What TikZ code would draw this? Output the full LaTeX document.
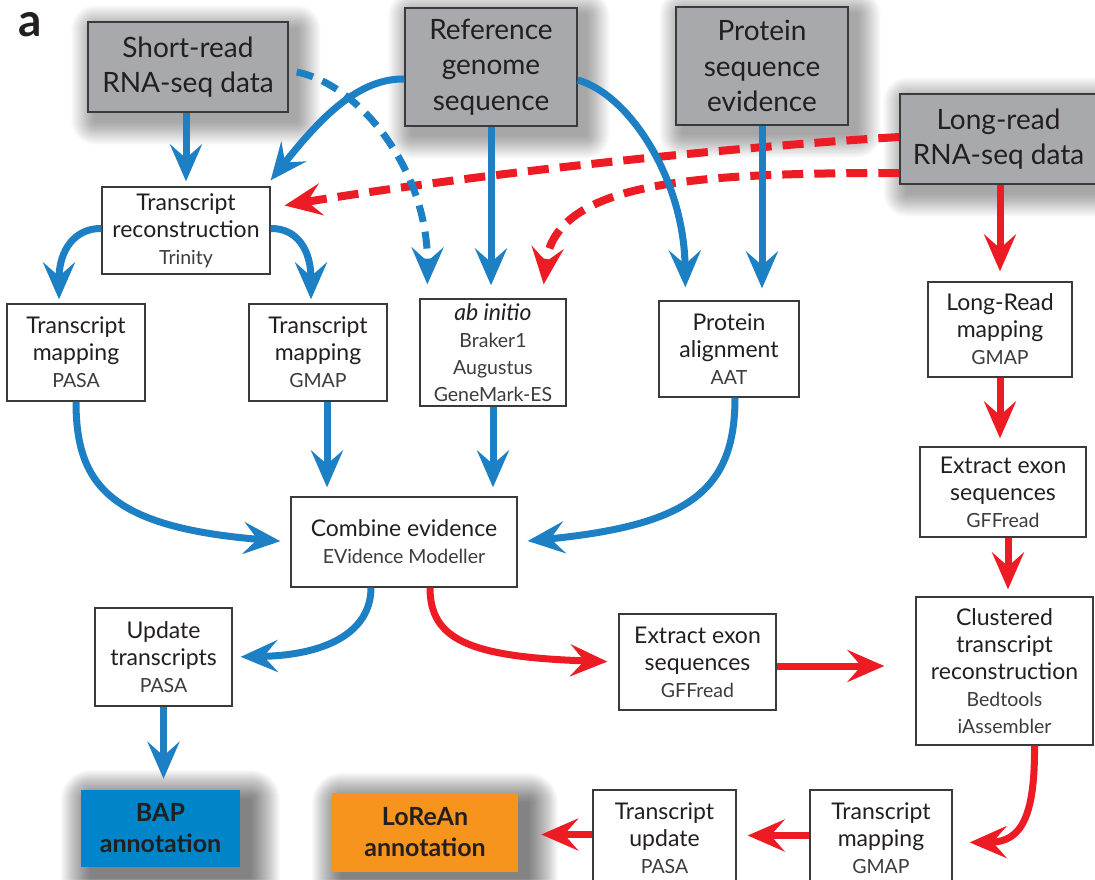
\documentclass[tikz,border=0pt]{standalone}
\usepackage{fontspec}
\setmainfont{Lato}
\usetikzlibrary{arrows.meta,calc,backgrounds}
\definecolor{blu}{HTML}{1E80C4}
\definecolor{rd}{HTML}{ED1C24}
\definecolor{gfill}{HTML}{A7A9AC}
\definecolor{bord}{HTML}{3A3A3A}
\definecolor{txt}{HTML}{231F20}
\definecolor{tooltxt}{HTML}{3C3C3C}
\definecolor{bapfill}{HTML}{0085CA}
\definecolor{lorfill}{HTML}{F7941D}
\newcommand{\tool}[1]{{\fontsize{19.5}{27}\selectfont\color{tooltxt}#1}}
\begin{document}
\begin{tikzpicture}[x=1pt,y=-1pt,
 gbox/.style={draw=bord,line width=1.5pt,fill=gfill,text=txt,align=center,inner sep=0pt,font=\fontsize{28}{35.5}\selectfont},
 wbox/.style={draw=bord,line width=1.3pt,fill=white,text=txt,align=center,inner sep=0pt,font=\fontsize{23}{27}\selectfont},
 abox/.style={inner sep=0pt,align=center,text=txt,font=\fontsize{25}{31}\selectfont\bfseries},
 blueline/.style={draw=blu,line width=7pt,-{Stealth[length=37pt,width=32pt,inset=14pt]}},
 bluedash/.style={blueline,dash pattern=on 17pt off 10pt},
 redline/.style={draw=rd,line width=7pt,-{Stealth[length=37pt,width=32pt,inset=14pt]}},
 reddash/.style={redline,line width=8pt,dash pattern=on 21pt off 11pt}]
\useasboundingbox (0,0) rectangle (1095,879);

\node[font=\fontsize{46}{46}\selectfont\bfseries,text=txt,inner sep=0pt] (lbl) at (30,25) {a};

% source boxes
\node[gbox,minimum width=200pt,minimum height=90pt] (short) at (188,67) {Short-read\\RNA-seq data};
\node[gbox,minimum width=172pt,minimum height=118pt] (ref) at (491,67) {Reference\\genome\\sequence};
\node[gbox,minimum width=172pt,minimum height=118pt] (prot) at (762,66) {Protein\\sequence\\evidence};
\node[gbox,minimum width=197pt,minimum height=90pt] (lr) at (998.5,139) {Long-read\\RNA-seq data};

% process boxes
\node[wbox,minimum width=168pt,minimum height=87pt] (trin) at (186,230.5) {Transcript\\reconstruction\\\tool{Trinity}};
\node[wbox,minimum width=138pt,minimum height=97pt] (pasa) at (76,352.5) {Transcript\\mapping\\\tool{PASA}};
\node[wbox,minimum width=138pt,minimum height=97pt] (gmap) at (318,352.5) {Transcript\\mapping\\\tool{GMAP}};
\node[wbox,minimum width=146pt,minimum height=107pt] (abinit) at (493,352.5) {{\itshape ab initio}\\\tool{Braker1}\\\tool{Augustus}\\\tool{GeneMark-ES}};
\node[wbox,minimum width=140pt,minimum height=96pt] (aat) at (729,349) {Protein\\alignment\\\tool{AAT}};
\node[wbox,minimum width=144pt,minimum height=95pt] (lrmap) at (1000,329.5) {Long-Read\\mapping\\\tool{GMAP}};
\node[wbox,minimum width=166pt,minimum height=90pt] (exonR) at (1003,492) {Extract exon\\sequences\\\tool{GFFread}};
\node[wbox,minimum width=226pt,minimum height=90pt] (comb) at (404,542) {Combine evidence\\\tool{EVidence Modeller}};
\node[wbox,minimum width=177pt,minimum height=148pt] (clust) at (1004.5,671) {Clustered\\transcript\\reconstruction\\\tool{Bedtools}\\\tool{iAssembler}};
\node[wbox,minimum width=157pt,minimum height=96pt] (exonM) at (697.5,662) {Extract exon\\sequences\\\tool{GFFread}};
\node[wbox,minimum width=137pt,minimum height=98pt] (upd) at (163.5,657) {Update\\transcripts\\\tool{PASA}};
\node[wbox,minimum width=143pt,minimum height=97pt] (tupd) at (664.5,838.5) {Transcript\\update\\\tool{PASA}};
\node[wbox,minimum width=142pt,minimum height=97pt] (tmap) at (881,838.5) {Transcript\\mapping\\\tool{GMAP}};

% result boxes
\node[abox,fill=bapfill,minimum width=159pt,minimum height=77pt] (bap) at (160.5,828.5) {BAP\\annotation};
\node[abox,fill=lorfill,minimum width=186pt,minimum height=79pt] (lor) at (425,832.5) {LoReAn\\annotation};

% red dashed connectors
\draw[reddash] ([shift={(0,-2)}]lr.west) .. controls (700,149) and (450,178) .. ([shift={(14,-25)}]trin.east);
\draw[reddash] ([shift={(0,34)}]lr.west) .. controls (700,173) and (555,180) .. ([shift={(-23,-14)}]abinit.north east);

% blue connectors
\draw[blueline,shorten >=5pt] (trin.north |- short.south) -- (trin.north);
\draw[blueline] ([shift={(0,12)}]ref.west) .. controls (355,78) and (315,125) .. ([shift={(0,-6)}]trin.north east);
\draw[bluedash] ([shift={(8,5)}]short.east) .. controls (360,85) and (428,170) .. ([shift={(8,-14)}]abinit.north west);
\draw[blueline,shorten >=13pt] (ref.south) -- (ref.south |- abinit.north);
\draw[blueline] ([shift={(0,13)}]ref.east) .. controls (630,95) and (684,180) .. ([shift={(27,-13)}]aat.north west);
\draw[blueline,shorten >=12pt] (prot.south) -- (prot.south |- aat.north);
\draw[blueline] ([shift={(0,-2)}]trin.west) .. controls (75,228) and (59,250) .. ([shift={(-17,-4)}]pasa.north);
\draw[blueline] ([shift={(0,-2)}]trin.east) .. controls (297,228) and (311,250) .. ([shift={(-7,-4)}]gmap.north);
\draw[blueline,shorten >=10pt] (pasa.south) .. controls (76,485) and (110,527) .. (comb.west);
\draw[blueline,shorten >=9pt] ([shift={(9,0)}]gmap.south) -- ([shift={(9,0)}]gmap.south |- comb.north);
\draw[blueline,shorten >=9pt] (abinit.south) -- (abinit.south |- comb.north);
\draw[blueline,shorten >=10pt] ([shift={(6,0)}]aat.south) .. controls (735,490) and (690,525) .. (comb.east);
\draw[blueline,shorten >=8pt] ([shift={(-33,0)}]comb.south) .. controls (371,630) and (330,655) .. (upd.east);
\draw[blueline,shorten >=11pt] (upd.south) -- (upd.south |- bap.north);

% red connectors
\draw[redline,shorten >=10pt] (lrmap.north |- lr.south) -- (lrmap.north);
\draw[redline,shorten >=8pt] (lrmap.south) -- (lrmap.south |- exonR.north);
\draw[redline,shorten >=7pt] ([shift={(5,0)}]exonR.south) -- ([shift={(5,0)}]exonR.south |- clust.north);
\draw[redline,shorten >=11pt] ([shift={(26,0)}]comb.south) .. controls (430,640) and (470,657) .. (exonM.west);
\draw[redline,shorten >=31pt] ([shift={(0,4)}]exonM.east) -- ([shift={(0,4)}]exonM.east -| clust.west);
\draw[redline,shorten >=17pt] ([shift={(30,0)}]clust.south) .. controls (1035,815) and (1022,842) .. ([shift={(0,4)}]tmap.east);
\draw[redline,shorten >=11pt] ([shift={(0,-3)}]tmap.west) -- ([shift={(0,-3)}]tupd.east);
\draw[redline,shorten >=23pt] ([shift={(0,-4)}]tupd.west) -- ([shift={(0,-4)}]tupd.west -| lor.east);

% background and soft shadows
\begin{scope}[on background layer]
\fill[white] (0,0) rectangle (1095,879);
\foreach \n/\o/\m/\op in {short/8/24/0.015,ref/8/24/0.015,prot/8/24/0.015,lr/8/24/0.015,bap/10/30/0.02,lor/10/30/0.02}{
  \foreach \r in {1,...,\m}{
    \fill[black,opacity=\op,rounded corners=\r*1pt] ([shift={(\o-\r,\o-\r)}]\n.north west) rectangle ([shift={(\o+\r,\o+\r)}]\n.south east);
  }
}
\end{scope}
\end{tikzpicture}
\end{document}
